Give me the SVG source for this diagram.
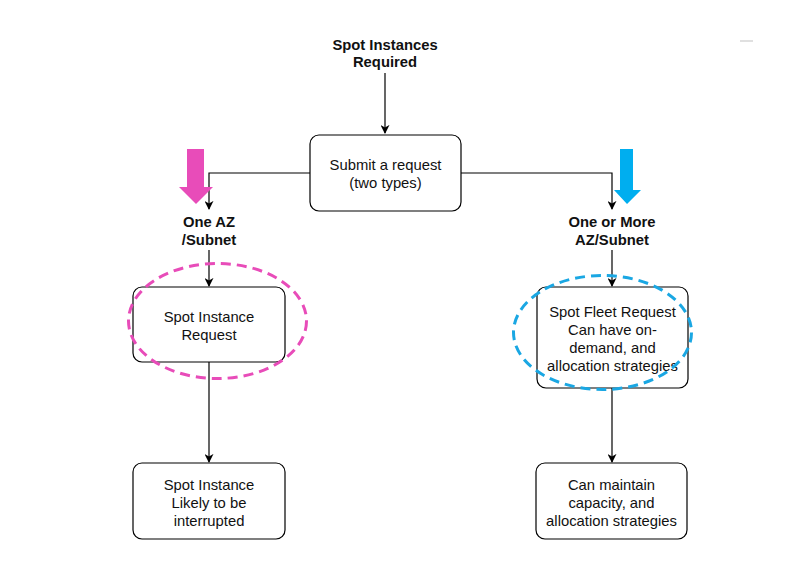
<svg xmlns="http://www.w3.org/2000/svg" width="790" height="573" viewBox="0 0 790 573">
<style>
.box{fill:#fff;stroke:#000;stroke-width:1.2}
.t{font-family:"Liberation Sans",Arial,sans-serif;font-size:14.8px;fill:#111;text-anchor:middle}
.b{font-weight:bold}
.edge{fill:none;stroke:#000;stroke-width:1.2}
</style>
<defs>
<marker id="ah" viewBox="0 0 10 10" refX="9" refY="5" markerWidth="9" markerHeight="9" markerUnits="userSpaceOnUse" orient="auto">
<path d="M0,0 L10,5 L0,10 L3,5 Z" fill="#000"/>
</marker>
</defs>
<rect width="790" height="573" fill="#fff"/>
<line x1="740" y1="41" x2="753" y2="41" stroke="#ccc" stroke-width="1.2"/>
<g id="connectors">
<path class="edge" d="M385,73 L385,133" marker-end="url(#ah)"/>
<path class="edge" d="M310,173 L209,173 L209,209" marker-end="url(#ah)"/>
<path class="edge" d="M461,173 L612,173 L612,209" marker-end="url(#ah)"/>
<path class="edge" d="M209,250 L209,286" marker-end="url(#ah)"/>
<path class="edge" d="M612,250 L612,286" marker-end="url(#ah)"/>
<path class="edge" d="M209,362 L209,462" marker-end="url(#ah)"/>
<path class="edge" d="M612,388 L612,462" marker-end="url(#ah)"/>
</g>
<g id="title">
<text class="t b" x="385" y="50">Spot Instances</text>
<text class="t b" x="385" y="67">Required</text>
</g>
<g id="submit">
<rect class="box" x="310" y="135" width="151" height="76" rx="9"/>
<text class="t" x="385.5" y="170">Submit a request</text>
<text class="t" x="385.5" y="188">(two types)</text>
</g>
<g id="pink-arrow">
<path d="M187,149 L204,149 L204,187 L213,187 L196,204 L179,187 L187,187 Z" fill="#e84cb9"/>
</g>
<g id="blue-arrow">
<path d="M620,149 L633,149 L633,190 L641,190 L627,204 L614,190 L620,190 Z" fill="#00aeef"/>
</g>
<g id="label-one-az">
<text class="t b" x="209" y="227">One AZ</text>
<text class="t b" x="209" y="245">/Subnet</text>
</g>
<g id="label-more-az">
<text class="t b" x="612" y="227">One or More</text>
<text class="t b" x="612" y="245">AZ/Subnet</text>
</g>
<g id="spot-instance-request">
<rect class="box" x="133" y="287" width="152" height="75" rx="9"/>
<text class="t" x="209" y="322">Spot Instance</text>
<text class="t" x="209" y="340">Request</text>
</g>
<g id="spot-fleet-request">
<rect class="box" x="537" y="287" width="151" height="101" rx="9"/>
<text class="t" x="612.5" y="317">Spot Fleet Request</text>
<text class="t" x="612.5" y="335">Can have on-</text>
<text class="t" x="612.5" y="353">demand, and</text>
<text class="t" x="612.5" y="371">allocation strategies</text>
</g>
<g id="spot-instance-interrupted">
<rect class="box" x="133" y="463" width="152" height="76" rx="9"/>
<text class="t" x="209" y="490">Spot Instance</text>
<text class="t" x="209" y="508">Likely to be</text>
<text class="t" x="209" y="526">interrupted</text>
</g>
<g id="maintain-capacity">
<rect class="box" x="536" y="463" width="151" height="76" rx="9"/>
<text class="t" x="611.5" y="490">Can maintain</text>
<text class="t" x="611.5" y="508">capacity, and</text>
<text class="t" x="611.5" y="526">allocation strategies</text>
</g>
<g id="highlights">
<ellipse cx="217.5" cy="321" rx="89" ry="57.5" fill="none" stroke="#e84cb9" stroke-width="3" stroke-dasharray="10,6"/>
<ellipse cx="602.5" cy="332.5" rx="89" ry="57" fill="none" stroke="#1aa7e3" stroke-width="3" stroke-dasharray="10,6"/>
</g>
</svg>
